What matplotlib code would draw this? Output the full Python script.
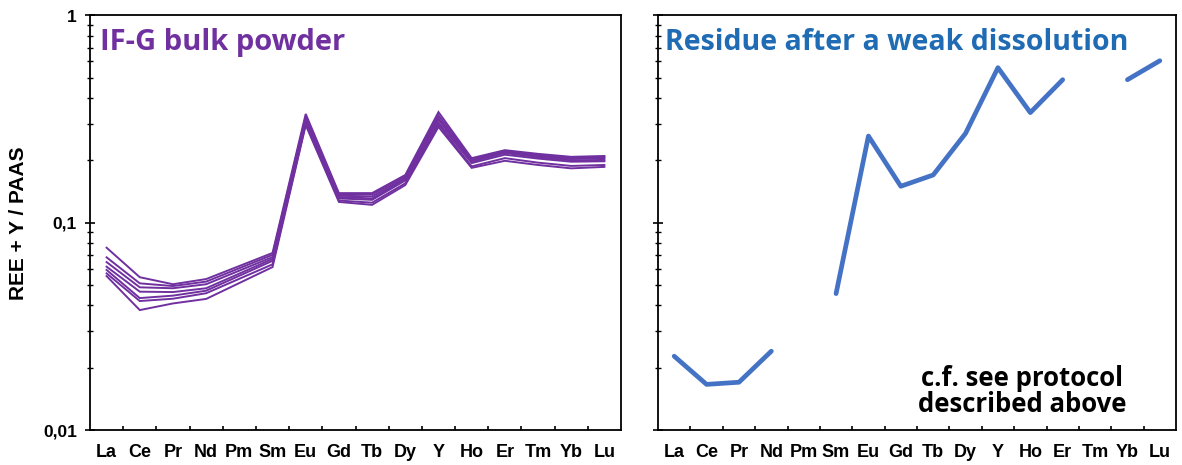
import numpy as np
import matplotlib
matplotlib.use("Agg")
import matplotlib.pyplot as plt
from matplotlib.ticker import FixedLocator, NullFormatter, LogLocator

elements = ['La', 'Ce', 'Pr', 'Nd', 'Pm', 'Sm', 'Eu', 'Gd', 'Tb', 'Dy', 'Y', 'Ho', 'Er', 'Tm', 'Yb', 'Lu']

# IF-G bulk powder replicates (PAAS-normalised), None = not measured
bulk_1 = [0.0758, 0.0546, 0.0505, 0.0535, None, 0.0715, 0.335, 0.139, 0.139, 0.170, 0.342, 0.205, 0.224, 0.215, 0.208, 0.210]
bulk_2 = [0.0681, 0.0510, 0.0495, 0.0520, None, 0.0700, 0.325, 0.137, 0.137, 0.168, 0.330, 0.203, 0.222, 0.212, 0.205, 0.207]
bulk_3 = [0.0646, 0.0488, 0.0483, 0.0505, None, 0.0683, 0.318, 0.135, 0.134, 0.165, 0.320, 0.200, 0.220, 0.210, 0.203, 0.205]
bulk_4 = [0.0614, 0.0465, 0.0463, 0.0483, None, 0.0669, 0.312, 0.133, 0.131, 0.163, 0.315, 0.197, 0.217, 0.207, 0.200, 0.201]
bulk_5 = [0.0592, 0.0433, 0.0445, 0.0470, None, 0.0655, 0.305, 0.131, 0.129, 0.160, 0.305, 0.194, 0.213, 0.204, 0.197, 0.198]
bulk_6 = [0.0570, 0.0419, 0.0430, 0.0457, None, 0.0630, 0.300, 0.128, 0.125, 0.155, 0.298, 0.187, 0.205, 0.195, 0.188, 0.190]
bulk_7 = [0.0553, 0.0379, 0.0408, 0.0429, None, 0.0611, 0.296, 0.126, 0.122, 0.152, 0.290, 0.184, 0.199, 0.190, 0.183, 0.186]
bulk_series = [bulk_1, bulk_2, bulk_3, bulk_4, bulk_5, bulk_6, bulk_7]

# Residue after a weak dissolution
residue = [0.0227, 0.0166, 0.0170, 0.0240, None, 0.0455, 0.262, 0.150, 0.170, 0.270, 0.560, 0.340, 0.490, None, 0.490, 0.605]

ytick_vals = [0.01, 0.1, 1]
ytick_labels = ['0,01', '0,1', '1']

PURPLE = '#7030A0'
BLUE_LINE = '#4472C4'
BLUE_TITLE = '#1F6CB4'

fig = plt.figure(figsize=(11.82, 4.65), dpi=100)
ax1 = fig.add_axes([90/1182, 1-430/465, (621-90)/1182, (430-15.5)/465])
ax2 = fig.add_axes([658/1182, 1-430/465, (1176-658)/1182, (430-15.5)/465])

n = len(elements)
centers = np.arange(n) + 0.5

for s in bulk_series:
    xs = [centers[i] for i, v in enumerate(s) if v is not None]
    ys = [v for v in s if v is not None]
    ax1.plot(xs, ys, color=PURPLE, lw=1.4, solid_joinstyle='miter')

res = np.array([np.nan if v is None else v for v in residue], dtype=float)
ax2.plot(centers, res, color=BLUE_LINE, lw=3.4, solid_capstyle='round')

for ax in (ax1, ax2):
    ax.set_yscale('log')
    ax.set_ylim(0.01, 1)
    ax.set_xlim(0, n)
    ax.yaxis.set_major_locator(FixedLocator(ytick_vals))
    ax.yaxis.set_minor_locator(LogLocator(base=10, subs=np.arange(2, 10)))
    ax.yaxis.set_minor_formatter(NullFormatter())
    ax.xaxis.set_major_locator(FixedLocator(np.arange(1, n)))
    ax.xaxis.set_minor_locator(FixedLocator(centers))
    ax.set_xticklabels([''] * (n - 1))
    ax.set_xticklabels(elements, minor=True, fontweight='bold', fontsize=13,
                       family='Liberation Sans')
    ax.tick_params(axis='x', which='major', direction='in', length=3, width=1.2)
    ax.tick_params(axis='x', which='minor', length=0, pad=10)
    ax.tick_params(axis='y', which='major', direction='inout', length=7, width=1.2)
    ax.tick_params(axis='y', which='minor', direction='inout', length=5, width=1.0)
    for sp in ax.spines.values():
        sp.set_linewidth(1.3)

ax1.set_yticklabels(ytick_labels, fontweight='bold', fontsize=12.5, family='Liberation Sans')
ax1.tick_params(axis='y', which='major', pad=6)
ax2.set_yticklabels([''] * len(ytick_vals))

ax1.set_ylabel('REE + Y / PAAS', fontweight='bold', fontsize=15, family='Liberation Sans', labelpad=11)

ax1.text(0.019, 0.917, 'IF-G bulk powder', transform=ax1.transAxes, color=PURPLE,
         fontsize=21, fontweight='bold', family='Open Sans', va='baseline', ha='left')
ax2.text(0.0135, 0.917, 'Residue after a weak dissolution', transform=ax2.transAxes, color=BLUE_TITLE,
         fontsize=20.5, fontweight='bold', family='Open Sans', va='baseline', ha='left')
ax2.text(0.703, 0.092, 'c.f. see protocol\ndescribed above', transform=ax2.transAxes, color='black',
         fontsize=18.5, fontweight='bold', family='Open Sans', va='center', ha='center', linespacing=0.95)

fig.savefig('out.png', dpi=100)
